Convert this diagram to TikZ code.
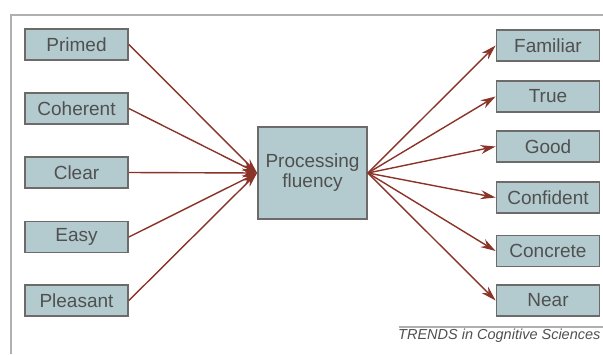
\documentclass[tikz,border=0pt]{standalone}
\usepackage{fontspec}
\setmainfont{Liberation Sans}
\usetikzlibrary{arrows.meta}
\definecolor{boxfill}{HTML}{B3CBCE}
\definecolor{boxline}{HTML}{6E6A6A}
\definecolor{arrowc}{HTML}{8A3328}
\definecolor{txt}{HTML}{505050}
\definecolor{framec}{HTML}{B0B0B0}
\tikzset{
  item/.style={draw=boxline, line width=1.8pt, fill=boxfill, minimum width=103pt, minimum height=31pt, inner sep=0pt, text=txt, font=\fontsize{19}{20}\selectfont},
  hub/.style={draw=boxline, line width=1.8pt, fill=boxfill, minimum width=109pt, minimum height=92pt, inner sep=0pt, text=txt, align=center, font=\fontsize{19}{20}\selectfont},
  link/.style={draw=arrowc, line width=1.4pt, -{Stealth[length=15pt,width=9pt]}},
}
\begin{document}
\begin{tikzpicture}[x=1pt,y=-1pt]
\useasboundingbox (0,0) rectangle (603,354);
\coordinate (fa) at (11,354);
\coordinate (fb) at (11,15);
\coordinate (fc) at (603,15);
\draw[framec, line width=2pt] (fa) -- (fb) -- (fc);
% left inputs
\node[item] (primed) at (76.5,44.5) {Primed};
\node[item] (coherent) at (76.5,108.5) {Coherent};
\node[item] (clear) at (76.5,172.5) {Clear};
\node[item] (easy) at (76.5,237) {Easy};
\node[item] (pleasant) at (76.5,300.5) {Pleasant};
% hub
\node[hub] (pf) at (312.5,173) {Processing\\fluency};
% right outputs
\node[item] (familiar) at (548,45.5) {Familiar};
\node[item] (true) at (548,96.5) {True};
\node[item] (good) at (548,146.5) {Good};
\node[item] (confident) at (548,197.5) {Confident};
\node[item] (concrete) at (548,251) {Concrete};
\node[item] (near) at (548,300.5) {Near};
% links in
\foreach \n in {primed,coherent,clear,easy,pleasant}
  \draw[link] (\n.east) -- (pf.west);
% links out
\foreach \n in {familiar,true,good,confident,concrete,near}
  \draw[link] (pf.east) -- (\n.west);
% source
\coordinate (sl) at (399,327);
\coordinate (sr) at (603,327);
\draw[framec, line width=1.2pt] (sl) -- (sr);
\node[anchor=west, inner sep=0pt, text=txt, font=\fontsize{14.5}{16}\selectfont\itshape] (src) at (398,336) {TRENDS in Cognitive Sciences};
\end{tikzpicture}
\end{document}
